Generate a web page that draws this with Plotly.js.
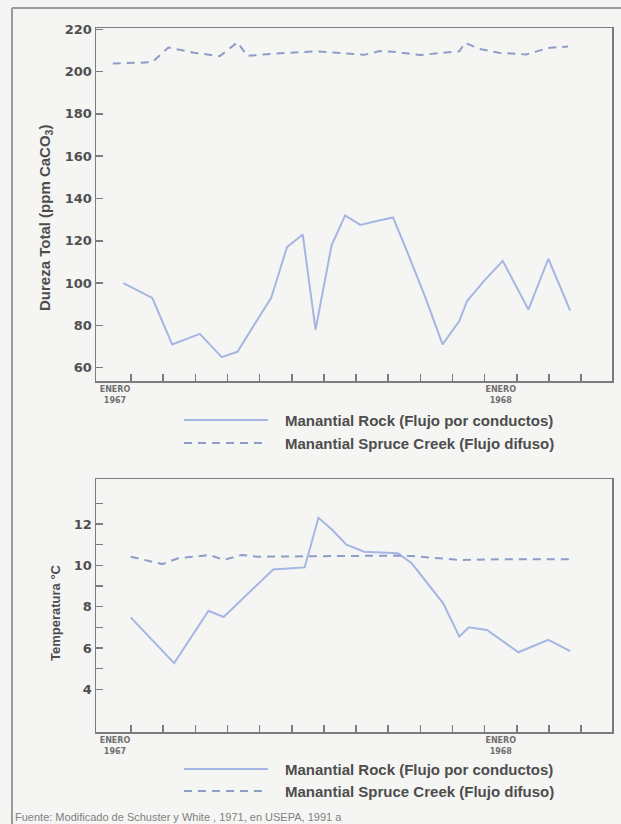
<!DOCTYPE html>
<html><head><meta charset="utf-8">
<script src="https://cdn.plot.ly/plotly-3.0.1.min.js"></script>
<style>html,body{margin:0;padding:0;background:#f5f5f3;} #chart{width:621px;height:824px;}</style>
</head><body><div id="chart"></div>
<script>
// ---- data (x = months since start of Jan 1967) ----
const rockHardMonth = [0.76,1.66,2.28,3.14,3.82,4.31,4.86,5.36,5.85,6.34,6.74,7.24,7.66,8.13,8.68,9.15,9.61,10.16,10.69,11.21,11.45,12.01,12.56,13.36,13.98,14.66];
const rockHard      = [100,93,71,76,65,67.5,81,93,117,123,78,118,132,127.5,129.5,131,114,93,71,82,91.5,101.5,110.5,87.5,111.5,87];
const spruceHardMonth = [0.43,1.66,2.16,2.96,3.76,4.31,4.62,5.54,6.77,7.39,8.25,8.74,9.24,9.98,11.21,11.39,11.82,12.44,13.3,13.98,14.59];
const spruceHard      = [203.8,204.4,211.4,208.9,207.3,213.8,207.4,208.6,209.6,208.9,207.9,209.7,209.3,207.8,209.6,213.6,210.8,208.9,208.1,211.2,211.8];
const rockTempMonth = [0.99,2.34,3.41,3.88,5.42,6.4,6.83,7.27,7.7,8.25,9.3,9.73,10.71,11.21,11.51,12.07,13.05,13.98,14.66];
const rockTemp      = [7.48,5.26,7.8,7.5,9.8,9.9,12.3,11.7,11.0,10.66,10.58,10.1,8.16,6.55,7.0,6.87,5.79,6.39,5.85];
const spruceTempMonth = [0.99,1.97,2.46,3.45,3.88,4.43,4.93,6.77,9.24,9.73,10.71,11.21,12.93,14.78];
const spruceTemp      = [10.42,10.06,10.34,10.5,10.26,10.5,10.42,10.45,10.47,10.45,10.34,10.26,10.3,10.3];

const seriesNames = ['Manantial Rock (Flujo por conductos)', 'Manantial Spruce Creek (Flujo difuso)'];
const monthBounds = [1,2,3,4,5,6,7,8,9,10,11,12,13,14,15];
const eneroTickVals = [0.5, 12.5];
const eneroTickText = ['ENERO<br>1967', 'ENERO<br>1968'];
const hardTicks = [60,80,100,120,140,160,180,200,220];
const tempTicks = [4,6,8,10,12];
const tempTickText = ['4','6','8','10','12'];
const tempMinorTicks = [5,7,9,11,13];
const yTitles = ['Dureza Total (ppm CaCO<sub>3</sub>)', 'Temperatura °C'];
const sourceNote = 'Fuente: Modificado de Schuster y White , 1971, en USEPA, 1991 a';

// ---- styling ----
const W = 621, H = 824;
const px = x => x / W, py = y => 1 - y / H;
const bg = '#f5f5f3';
const rockColor = '#a6b6e2';
const spruceColor = '#8e9dc8';
const axisColor = '#7c7c7c';
const textColor = '#4d4d4d';
const tickFont = {family: 'DejaVu Sans', size: 13, color: '#505050', weight: 'bold'};
const dateFont = {family: 'DejaVu Sans', size: 8, color: '#707070', weight: 'bold'};
const dashPat = '8px,6px';

const traces = [
  {x: rockHardMonth, y: rockHard, xaxis: 'x', yaxis: 'y', mode: 'lines', name: seriesNames[0],
   line: {color: rockColor, width: 2}, showlegend: false},
  {x: spruceHardMonth, y: spruceHard, xaxis: 'x', yaxis: 'y', mode: 'lines', name: seriesNames[1],
   line: {color: spruceColor, width: 2, dash: dashPat}, showlegend: false},
  {x: rockTempMonth, y: rockTemp, xaxis: 'x2', yaxis: 'y2', mode: 'lines', name: seriesNames[0],
   line: {color: rockColor, width: 2}, showlegend: false},
  {x: spruceTempMonth, y: spruceTemp, xaxis: 'x2', yaxis: 'y2', mode: 'lines', name: seriesNames[1],
   line: {color: spruceColor, width: 2, dash: dashPat}, showlegend: false}
];

function xAxis(anchor) {
  return {
    domain: [px(96), px(612)], anchor: anchor, range: [-0.09, 15.96],
    tickmode: 'array', tickvals: eneroTickVals, ticktext: eneroTickText, ticks: '',
    tickfont: dateFont,
    minor: {tickmode: 'array', tickvals: monthBounds, ticks: 'inside', ticklen: 7, tickwidth: 1.5, tickcolor: axisColor, showgrid: false},
    showline: true, mirror: true, linecolor: axisColor, linewidth: 1.5,
    showgrid: false, zeroline: false, fixedrange: true
  };
}

const layout = {
  width: W, height: H,
  margin: {l: 0, r: 0, t: 0, b: 0},
  paper_bgcolor: bg, plot_bgcolor: bg,
  font: {family: 'Liberation Sans, Arial, sans-serif', color: textColor},
  showlegend: false,
  xaxis: xAxis('y'),
  xaxis2: xAxis('y2'),
  yaxis: {
    domain: [py(381), py(28)], anchor: 'x', range: [53.7, 220.6],
    tickmode: 'array', tickvals: hardTicks, ticks: 'inside', ticklen: 7, tickwidth: 1.5, tickcolor: axisColor,
    tickfont: tickFont, showline: true, mirror: true, linecolor: axisColor, linewidth: 1.5,
    showgrid: false, zeroline: false
  },
  yaxis2: {
    domain: [py(732), py(479)], anchor: 'x2', range: [1.93, 14.18],
    tickmode: 'array', tickvals: tempTicks, ticktext: tempTickText, ticks: 'inside', ticklen: 7, tickwidth: 1.5, tickcolor: axisColor,
    minor: {tickmode: 'array', tickvals: tempMinorTicks, ticks: 'inside', ticklen: 7, tickwidth: 1.5, tickcolor: axisColor, showgrid: false},
    tickfont: tickFont, showline: true, mirror: true, linecolor: axisColor, linewidth: 1.5,
    showgrid: false, zeroline: false
  },
  shapes: [
    // outer frame
    {type: 'line', xref: 'paper', yref: 'paper', x0: px(12), x1: px(12), y0: py(8), y1: 0, line: {color: '#9a9a9a', width: 2}},
    {type: 'line', xref: 'paper', yref: 'paper', x0: px(12), x1: 1, y0: py(8), y1: py(8), line: {color: '#9a9a9a', width: 2}},
    // legend samples top
    {type: 'line', xref: 'paper', yref: 'paper', x0: px(184), x1: px(268), y0: py(420), y1: py(420), line: {color: rockColor, width: 2}},
    {type: 'line', xref: 'paper', yref: 'paper', x0: px(184), x1: px(268), y0: py(443), y1: py(443), line: {color: spruceColor, width: 2, dash: dashPat}},
    // legend samples bottom
    {type: 'line', xref: 'paper', yref: 'paper', x0: px(184), x1: px(268), y0: py(769), y1: py(769), line: {color: rockColor, width: 2}},
    {type: 'line', xref: 'paper', yref: 'paper', x0: px(184), x1: px(268), y0: py(791), y1: py(791), line: {color: spruceColor, width: 2, dash: dashPat}}
  ],
  annotations: [
    {text: yTitles[0], xref: 'paper', yref: 'paper', x: px(45), y: py(218), textangle: -90, showarrow: false,
     font: {size: 15, weight: 'bold', color: textColor}, xanchor: 'center', yanchor: 'middle'},
    {text: yTitles[1], xref: 'paper', yref: 'paper', x: px(55), y: py(613), textangle: -90, showarrow: false,
     font: {size: 13, weight: 'bold', color: textColor}, xanchor: 'center', yanchor: 'middle'},
    {text: seriesNames[0], xref: 'paper', yref: 'paper', x: px(283), y: py(420), xanchor: 'left', yanchor: 'middle', showarrow: false,
     font: {size: 15, weight: 'bold', color: textColor}},
    {text: seriesNames[1], xref: 'paper', yref: 'paper', x: px(283), y: py(443), xanchor: 'left', yanchor: 'middle', showarrow: false,
     font: {size: 15, weight: 'bold', color: textColor}},
    {text: seriesNames[0], xref: 'paper', yref: 'paper', x: px(283), y: py(769), xanchor: 'left', yanchor: 'middle', showarrow: false,
     font: {size: 15, weight: 'bold', color: textColor}},
    {text: seriesNames[1], xref: 'paper', yref: 'paper', x: px(283), y: py(791), xanchor: 'left', yanchor: 'middle', showarrow: false,
     font: {size: 15, weight: 'bold', color: textColor}},
    {text: sourceNote, xref: 'paper', yref: 'paper', x: px(13), y: py(817), xanchor: 'left', yanchor: 'middle', showarrow: false,
     font: {size: 11, color: '#808080'}}
  ]
};

Plotly.newPlot('chart', traces, layout, {displayModeBar: false, staticPlot: true});
</script>
</body></html>
